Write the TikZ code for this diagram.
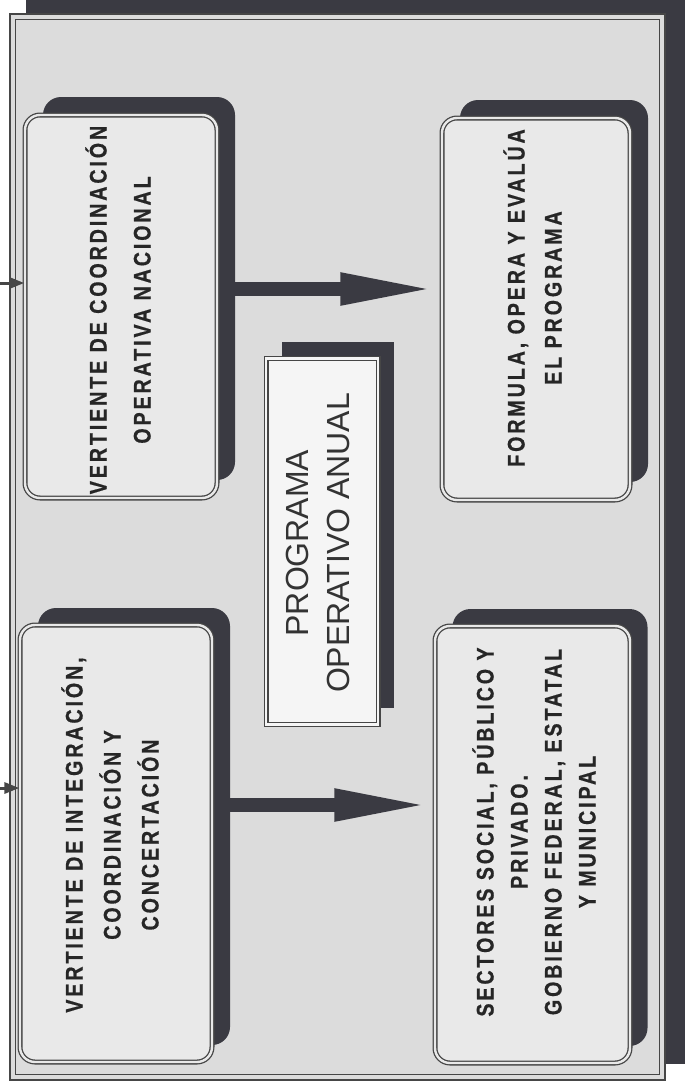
\documentclass[tikz,border=0pt]{standalone}
\usepackage{fontspec}
\setmainfont{Liberation Sans}
\newfontfamily\condfont{Liberation Sans}[UprightFont=* Bold, BoldFont=* Bold, FakeStretch=0.82, LetterSpace=12, FakeBold=0.6]
\usetikzlibrary{arrows.meta}
\definecolor{shadowc}{RGB}{58,58,66}
\definecolor{bgc}{RGB}{220,220,220}
\definecolor{boxc}{RGB}{233,233,233}
\definecolor{cboxc}{RGB}{245,245,245}
\definecolor{linec}{RGB}{70,70,70}
\definecolor{txtc}{RGB}{38,38,38}
\newcommand\bxfont[1]{\condfont\fontsize{24}{#1}\selectfont}
\begin{document}
\begin{tikzpicture}[x=1pt,y=-1pt,
  framesh/.style={fill=shadowc, draw=none},
  boxshadow/.style={fill=shadowc, draw=none, rounded corners=18pt, inner sep=0pt},
  stepbox/.style={fill=boxc, draw=linec, line width=1.3pt, double=boxc, double distance=2.4pt, rounded corners=15pt, inner sep=0pt},
  centerbox/.style={fill=cboxc, draw=linec, line width=1.3pt, double=cboxc, double distance=2.4pt, inner sep=0pt},
  cshadow/.style={fill=shadowc, draw=none, inner sep=0pt},
  boxtext/.style={align=center, text=txtc, inner sep=0pt, rotate=90},
  bigarrow/.style={draw=shadowc, line width=14pt, -{Triangle[length=97pt,width=29pt]}},
  stubarrow/.style={draw=gray!55!black, line width=3pt, -{Triangle[length=15pt,width=11pt]}}
]
\useasboundingbox (0,0) rectangle (687,1090);
\fill[white] (0,0) rectangle (687,1090);
% frame shadow and frame
\fill[framesh] (26,0) rectangle (685,1064);
\fill[bgc] (10,14) rectangle (665,1080);
\draw[linec, line width=1.2pt] (10,14) rectangle (665,1080);
\draw[linec, line width=1.4pt] (15.5,19.5) rectangle (659.5,1074.5);

% box shadows
\node[boxshadow, minimum width=192pt, minimum height=383pt] (ulsh) at (139,288.5) {};
\node[boxshadow, minimum width=188pt, minimum height=382pt] (ursh) at (554,291) {};
\node[boxshadow, minimum width=192pt, minimum height=437pt] (llsh) at (134,826.5) {};
\node[boxshadow, minimum width=195pt, minimum height=437pt] (lrsh) at (550,827.5) {};
\node[cshadow, minimum width=112pt, minimum height=366pt] (csh) at (338,525) {};

% boxes
\node[stepbox, minimum width=192pt, minimum height=383pt] (ul) at (121,306.5) {};
\node[stepbox, minimum width=188pt, minimum height=382pt] (ur) at (536,309) {};
\node[stepbox, minimum width=192pt, minimum height=437pt] (ll) at (116,843.5) {};
\node[stepbox, minimum width=195pt, minimum height=437pt] (lr) at (532.5,844.5) {};
\node[centerbox, minimum width=112pt, minimum height=366pt] (cb) at (322,541.5) {};

% texts
\node[boxtext, font={\bxfont{44}}] (ultx) at (118,310)
  {VERTIENTE DE COORDINACIÓN\\OPERATIVA NACIONAL};
\node[boxtext, font={\bxfont{37}}] (urtx) at (532.5,298)
  {FORMULA, OPERA Y EVALÚA\\EL PROGRAMA};
\node[boxtext, font={\bxfont{38}}] (lltx) at (110,835)
  {VERTIENTE DE INTEGRACIÓN,\\COORDINACIÓN Y\\CONCERTACIÓN};
\node[boxtext, font={\bxfont{34}}] (lrtx) at (534,832)
  {SECTORES SOCIAL, PÚBLICO Y\\PRIVADO.\\GOBIERNO FEDERAL, ESTATAL\\Y MUNICIPAL};
\node[boxtext, font={\fontsize{32}{41}\selectfont}, text=black!80] (ctx) at (318,543)
  {PROGRAMA\\OPERATIVO ANUAL};

% connectors
\coordinate (y1) at (0,289);
\coordinate (y2) at (0,805);
\draw[bigarrow, shorten >=4pt] (ulsh.east |- y1) -- (ur.west |- y1);
\draw[bigarrow, shorten >=3pt] (llsh.east |- y2) -- (lr.west |- y2);
\coordinate (in1) at (0,283);
\coordinate (in2) at (0,788);
\draw[stubarrow] (in1) -- (ul.west |- in1);
\draw[stubarrow] (in2) -- (ll.west |- in2);
\end{tikzpicture}
\end{document}
